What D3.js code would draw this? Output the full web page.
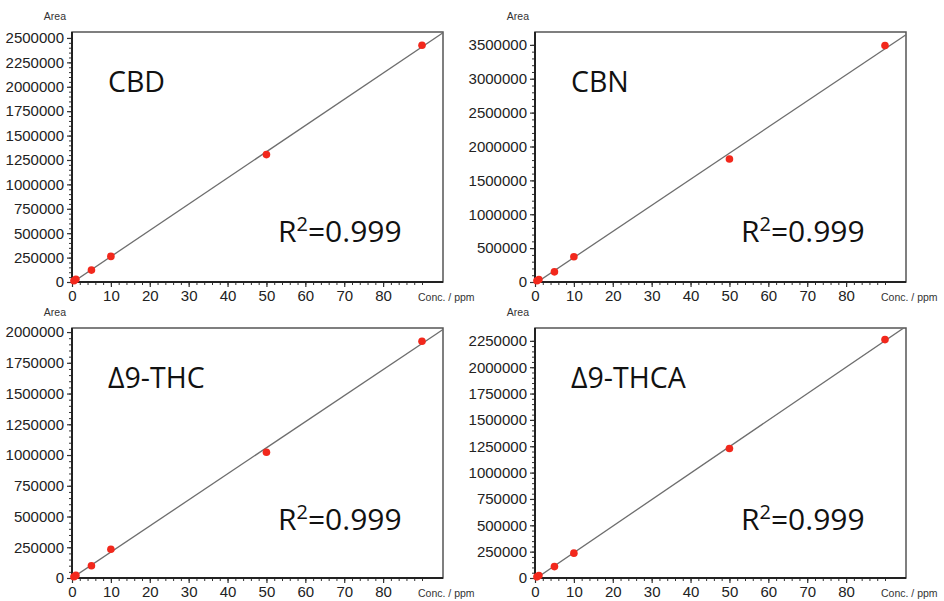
<!DOCTYPE HTML>
<html>
  <head>
    <title>Calibration curves</title>
    <style>
      body { margin: 0; background: #fff; }
      svg text { font-family: "Liberation Sans", Arial, sans-serif; }
      .big { font-family: "Open Sans", sans-serif; fill: #111; }
    </style>
  </head>
  <body>
    <script src="https://cdn.jsdelivr.net/npm/d3@7"></script>
    <script>
      // concentration levels (ppm)
      var conc = [0.5, 1, 5, 10, 50, 90];

      // peak areas per compound
      var cbdArea  = [13000, 27000, 122000, 262000, 1305000, 2425000];
      var cbnArea  = [18000, 38000, 150000, 372000, 1815000, 3490000];
      var thcArea  = [10000, 21000, 100000, 234000, 1022000, 1925000];
      var thcaArea = [11000, 24000, 108000, 236000, 1228000, 2262000];

      var names = ['CBD', 'CBN', '\u03949-THC', '\u03949-THCA'];
      var yTickMax = [2500000, 3500000, 2000000, 2250000];
      var yTickStep = [250000, 500000, 250000, 250000];
      var yDomainMax = [2561000, 3690000, 2033000, 2372000];
      var xTicks = [0, 10, 20, 30, 40, 50, 60, 70, 80];
      var xDomainMax = 95.4;
      var r2Label = '0.999';

      var series = [cbdArea, cbnArea, thcArea, thcaArea];

      var width = 944, height = 601;

      var svg = d3.select('body').append('svg')
          .attr('width', width)
          .attr('height', height);

      // panel boxes: left, right, top, bottom
      var panels = [
        {x0: 72, x1: 443, y0: 32, y1: 282},
        {x0: 535, x1: 906, y0: 32, y1: 282},
        {x0: 72, x1: 443, y0: 328, y1: 578},
        {x0: 535, x1: 906, y0: 328, y1: 578}
      ];

      function fit(xs, ys) {
        var mx = d3.mean(xs), my = d3.mean(ys);
        var sxy = d3.sum(xs, function(x, i) { return (x - mx) * (ys[i] - my); });
        var sxx = d3.sum(xs, function(x) { return (x - mx) * (x - mx); });
        var b = sxy / sxx;
        return {slope: b, icpt: my - b * mx};
      }

      panels.forEach(function(p, k) {
        var ys = series[k];
        var x = d3.scaleLinear().domain([0, xDomainMax]).range([p.x0, p.x1]);
        var y = d3.scaleLinear().domain([0, yDomainMax[k]]).range([p.y1, p.y0]);

        var g = svg.append('g');

        // clip for line
        g.append('clipPath').attr('id', 'clip' + k)
          .append('rect')
            .attr('x', p.x0).attr('y', p.y0)
            .attr('width', p.x1 - p.x0).attr('height', p.y1 - p.y0);

        // minor ticks
        var yMinor = d3.range(0, yTickMax[k] + 1, yTickStep[k] / 5);
        g.append('g')
            .attr('transform', 'translate(' + p.x0 + ',0)')
            .call(d3.axisLeft(y).tickValues(yMinor).tickSize(3).tickFormat(''))
            .call(function(s) { s.select('.domain').remove(); s.selectAll('line').attr('stroke', '#333'); });
        var xMinor = d3.range(0, 91, 2);
        g.append('g')
            .attr('transform', 'translate(0,' + p.y1 + ')')
            .call(d3.axisBottom(x).tickValues(xMinor).tickSize(3).tickFormat(''))
            .call(function(s) { s.select('.domain').remove(); s.selectAll('line').attr('stroke', '#333'); });

        // major y axis
        var yAx = g.append('g')
            .attr('transform', 'translate(' + p.x0 + ',0)')
            .call(d3.axisLeft(y).tickValues(d3.range(0, yTickMax[k] + 1, yTickStep[k]))
              .tickSize(5).tickPadding(3).tickFormat(d3.format('d')));
        yAx.select('.domain').remove();
        yAx.selectAll('line').attr('stroke', '#333').attr('stroke-width', 1.2);
        yAx.selectAll('text').attr('font-size', 15).attr('fill', '#222')
          .attr('font-family', '"Liberation Sans", Arial, sans-serif');

        // major x axis
        var xAx = g.append('g')
            .attr('transform', 'translate(0,' + p.y1 + ')')
            .call(d3.axisBottom(x).tickValues(xTicks).tickSize(5).tickPadding(3));
        xAx.select('.domain').remove();
        xAx.selectAll('line').attr('stroke', '#333').attr('stroke-width', 1.2);
        xAx.selectAll('text').attr('font-size', 15).attr('fill', '#222')
          .attr('font-family', '"Liberation Sans", Arial, sans-serif');

        // frame
        g.append('rect')
            .attr('x', p.x0).attr('y', p.y0)
            .attr('width', p.x1 - p.x0).attr('height', p.y1 - p.y0)
            .attr('fill', 'none').attr('stroke', '#555').attr('stroke-width', 1.5);
        g.append('path')
            .attr('d', 'M' + p.x0 + ',' + p.y0 + 'V' + p.y1 + 'H' + p.x1)
            .attr('fill', 'none').attr('stroke', '#222').attr('stroke-width', 2);

        // axis titles
        g.append('text')
            .attr('x', p.x0 - 6).attr('y', p.y0 - 12)
            .attr('text-anchor', 'end')
            .attr('font-size', 10.5).attr('fill', '#333')
            .text('Area');
        g.append('text')
            .attr('x', p.x1 - 25).attr('y', p.y1 + 19)
            .attr('font-size', 10.5).attr('fill', '#333')
            .text('Conc. / ppm');

        // regression line
        var f = fit(conc, ys);
        g.append('line')
            .attr('clip-path', 'url(#clip' + k + ')')
            .attr('x1', x(0)).attr('y1', y(f.icpt))
            .attr('x2', x(xDomainMax)).attr('y2', y(f.icpt + f.slope * xDomainMax))
            .attr('stroke', '#6e6e6e').attr('stroke-width', 1.3);

        // points
        g.selectAll('circle')
          .data(conc)
          .enter().append('circle')
            .attr('cx', function(d) { return x(d); })
            .attr('cy', function(d, i) { return y(ys[i]); })
            .attr('r', 3.8)
            .attr('fill', '#f2281c');

        // compound name
        g.append('text')
            .attr('class', 'big')
            .attr('x', p.x0 + 36)
            .attr('y', p.y0 + 60)
            .attr('font-size', 28.5)
            .text(names[k]);

        // R squared
        var t = g.append('text')
            .attr('class', 'big')
            .attr('x', p.x0 + 206)
            .attr('y', p.y0 + (k < 2 ? 210 : 202))
            .attr('font-size', 30);
        t.append('tspan').text('R');
        t.append('tspan').attr('font-size', 20).attr('dy', -11).text('2');
        t.append('tspan').attr('dy', 11).text('=' + r2Label);
      });
    </script>
  </body>
</html>
